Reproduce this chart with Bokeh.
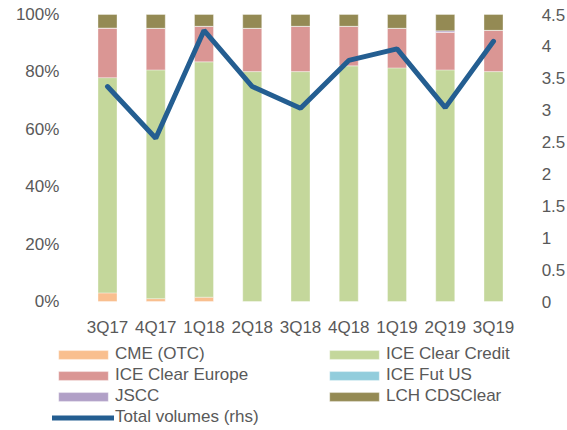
from bokeh.plotting import figure
from bokeh.models import (Range1d, LinearAxis, FixedTicker, Legend,
                          LegendItem, ColumnDataSource)
from bokeh.embed import file_html
from bokeh.resources import INLINE

quarters = ["3Q17", "4Q17", "1Q18", "2Q18", "3Q18", "4Q18", "1Q19", "2Q19", "3Q19"]
cme_otc = [3.0, 1.0, 1.5, 0.0, 0.0, 0.0, 0.0, 0.0, 0.0]
ice_clear_credit = [75.0, 79.7, 82.0, 80.1, 80.1, 82.1, 81.4, 80.7, 80.1]
ice_clear_europe = [17.3, 14.5, 12.4, 15.1, 15.8, 13.8, 13.8, 13.1, 14.4]
ice_fut_us = [0.0, 0.0, 0.0, 0.0, 0.0, 0.0, 0.0, 0.0, 0.0]
jscc = [0.0, 0.0, 0.0, 0.0, 0.0, 0.0, 0.0, 0.5, 0.0]
lch_cdsclear = [4.7, 4.8, 4.1, 4.8, 4.1, 4.1, 4.8, 5.7, 5.5]
total_volumes = [3.37, 2.56, 4.25, 3.37, 3.03, 3.78, 3.96, 3.04, 4.08]

left_ticks = [0, 20, 40, 60, 80, 100]
left_labels = ["0%", "20%", "40%", "60%", "80%", "100%"]
right_ticks = [0, 0.5, 1, 1.5, 2, 2.5, 3, 3.5, 4, 4.5]
right_labels = ["0", "0.5", "1", "1.5", "2", "2.5", "3", "3.5", "4", "4.5"]

series = ["CME (OTC)", "ICE Clear Credit", "ICE Clear Europe", "ICE Fut US", "JSCC", "LCH CDSClear"]
colors = ["#F9BF8F", "#C4D79B", "#DA9694", "#92CDDC", "#B1A0C7", "#948A54"]
line_color = "#245E91"
text_color = "#595959"
FONT = "Liberation Sans"

# layout (pixels inside the figure)
W, H = 567, 430
x0_px, step_px = 107.0, 48.25       # centre of first category, category pitch
y0_px, y100_px = 301.0, 14.0         # pixel rows of 0% and 100%
ppu = (y0_px - y100_px) / 100.0
ppu_r = (y0_px - y100_px) / 4.5

xpos = list(range(len(quarters)))
src = ColumnDataSource(dict(
    x=xpos, s0=cme_otc, s1=ice_clear_credit, s2=ice_clear_europe,
    s3=ice_fut_us, s4=jscc, s5=lch_cdsclear, tv=total_volumes))

p = figure(x_range=Range1d(-x0_px / step_px, (W - x0_px) / step_px),
           y_range=Range1d(-(H - y0_px) / ppu, 100 + y100_px / ppu),
           width=W, height=H, output_backend="svg", toolbar_location=None,
           min_border=0, x_axis_location=None, y_axis_location=None)
p.extra_y_ranges = {"rhs": Range1d(-(H - y0_px) / ppu_r, 4.5 + y100_px / ppu_r)}

bars = p.vbar_stack(["s0", "s1", "s2", "s3", "s4", "s5"], x="x", width=0.394,
                    source=src, color=colors, line_color="white", line_width=0.6,
                    line_alpha=0.6)
ln = p.line("x", "tv", source=src, y_range_name="rhs", line_color=line_color,
            line_width=5, line_cap="round")

n = len(quarters)
laxis = LinearAxis(fixed_location=-0.5, ticker=FixedTicker(ticks=left_ticks),
                   major_label_overrides={t: l for t, l in zip(left_ticks, left_labels)},
                   major_label_standoff=18)
raxis = LinearAxis(y_range_name="rhs", fixed_location=n - 0.5,
                   ticker=FixedTicker(ticks=right_ticks),
                   major_label_overrides={t: l for t, l in zip(right_ticks, right_labels)},
                   major_label_standoff=18)
xaxis = LinearAxis(fixed_location=0, ticker=FixedTicker(ticks=xpos),
                   major_label_overrides={i: q for i, q in zip(xpos, quarters)},
                   major_label_standoff=10)
p.add_layout(laxis, "left")
p.add_layout(raxis, "right")
p.add_layout(xaxis, "below")

for ax in [laxis, raxis, xaxis]:
    ax.axis_line_color = None
    ax.major_tick_line_color = None
    ax.minor_tick_line_color = None
    ax.major_label_text_font = FONT
    ax.major_label_text_font_size = "17px"
    ax.major_label_text_color = text_color

p.xgrid.grid_line_color = None
p.ygrid.grid_line_color = None
p.outline_line_color = None


def mk_legend(items, loc):
    return Legend(items=items, location=loc, orientation="vertical",
                  label_text_font=FONT, label_text_font_size="17px",
                  label_text_color=text_color, glyph_width=62, glyph_height=11,
                  label_height=20, label_standoff=1, spacing=1, padding=0,
                  margin=0, border_line_alpha=0, background_fill_alpha=0)


left_items = [LegendItem(label=series[0], renderers=[bars[0]]),
              LegendItem(label=series[2], renderers=[bars[2]]),
              LegendItem(label=series[4], renderers=[bars[4]]),
              LegendItem(label="Total volumes (rhs)", renderers=[ln])]
right_items = [LegendItem(label=series[1], renderers=[bars[1]]),
               LegendItem(label=series[3], renderers=[bars[3]]),
               LegendItem(label=series[5], renderers=[bars[5]])]

p.add_layout(mk_legend(left_items, (52, 3)), "center")
p.add_layout(mk_legend(right_items, (323, 24)), "center")

open("out.html", "w").write(file_html(p, INLINE))
